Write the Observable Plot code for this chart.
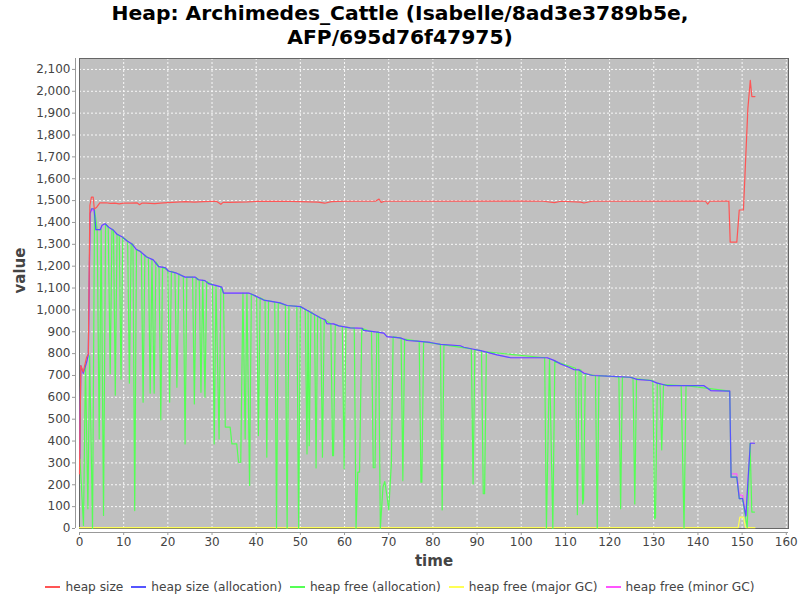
<!DOCTYPE html>
<html><head><meta charset="utf-8">
<script src="https://cdn.jsdelivr.net/npm/d3@7"></script>
<script src="https://cdn.jsdelivr.net/npm/@observablehq/plot@0.6"></script>
<style>
body{margin:0;background:#fff;font-family:"DejaVu Sans",sans-serif;}
#title{width:800px;height:49px;padding-top:1px;text-align:center;font-weight:bold;font-size:20.3px;line-height:24px;color:#000;}
#chart{height:525px;}
#legend{width:800px;height:24px;display:flex;justify-content:center;align-items:center;font-size:12.2px;color:#444;}
.item{display:flex;align-items:center;margin-right:8px;}
.item:last-child{margin-right:0;}
.sw{width:15px;height:1.5px;margin-right:5px;}
</style></head><body>
<div id="title">Heap: Archimedes_Cattle (Isabelle/8ad3e3789b5e,<br>AFP/695d76f47975)</div>
<div id="chart"></div>
<div id="legend"></div>
<script>
const xTicks = [0,10,20,30,40,50,60,70,80,90,100,110,120,130,140,150,160];
const yTicks = [0,100,200,300,400,500,600,700,800,900,1000,1100,1200,1300,1400,1500,1600,1700,1800,1900,2000,2100];

// heap size (red)
const heapSize = [[0,250],[0.3,745],[0.85,716],[1.6,783],[2.0,798],[2.35,1478],[2.7,1516],[3.1,1516],[3.35,1462],[3.9,1470],[4.6,1490],[6.0,1490],[7.0,1487],[8.0,1488],[9.0,1485],[10.0,1488],[11.5,1488],[13.0,1490],[13.6,1481],[14.1,1488],[15.0,1488],[17.0,1486],[19.0,1490],[21.0,1492],[24.0,1495],[26.0,1493],[28.0,1495],[31.0,1497],[32.0,1483],[32.5,1492],[34.0,1492],[38.0,1494],[40.0,1496],[46.0,1497],[50.0,1495],[54.0,1493],[55.5,1488],[57.0,1495],[60.0,1497],[67.0,1497],[67.8,1507],[68.3,1492],[69.0,1497],[80.0,1497],[100.0,1498],[105.0,1497],[107.5,1491],[109.0,1497],[113.5,1493],[114.2,1489],[116.0,1497],[125.0,1497],[140.0,1498],[141.7,1497],[142.2,1484],[142.7,1497],[147.0,1498],[147.3,1310],[148.8,1310],[149.35,1457],[150.3,1457],[151.3,1920],[151.85,2050],[152.2,1976],[152.9,1976]];

// heap size (allocation) (blue)
const sizeAlloc = [[0.05,320],[0.3,745],[0.85,710],[1.6,760],[2.0,795],[2.4,1440],[2.7,1462],[3.3,1462],[3.7,1367],[4.7,1367],[5.1,1387],[5.8,1394],[6.6,1378],[7.7,1364],[8.5,1346],[9.6,1335],[10.7,1316],[11.8,1303],[12.9,1276],[13.7,1268],[15.2,1242],[16.7,1229],[17.9,1198],[19.4,1193],[20.1,1178],[22.0,1168],[23.9,1150],[26.2,1150],[26.9,1138],[28.4,1134],[29.2,1120],[31.0,1111],[32.2,1104],[32.6,1077],[38.3,1077],[39.4,1068],[41.7,1045],[45.4,1032],[47.0,1020],[50.0,1015],[51.5,998],[53.4,977],[54.5,964],[55.6,955],[56.0,937],[57.5,936],[58.7,927],[61.3,918],[64.0,916],[64.3,906],[67.4,898],[68.9,894],[69.6,878],[72.6,872],[74.2,860],[76.4,857],[79.4,851],[81.7,842],[86.2,836],[87.0,829],[89.2,820],[90.8,814],[93.0,802],[94.5,794],[97.6,781],[105.9,781],[107.4,769],[108.9,753],[110.4,741],[111.9,727],[113.0,726],[114.2,710],[116.1,700],[119.5,697],[124.7,692],[126.2,682],[129.3,677],[130.8,665],[133.0,654],[141.3,654],[142.9,631],[147.2,628],[147.5,235],[148.8,235],[149.35,137],[150.1,137],[150.85,57],[151.85,390],[152.8,390]];

// heap free (allocation) (green)
const freeAlloc = [[0.05,340],[0.9,14],[1.35,750],[1.9,90],[2.3,790],[2.95,0],[3.4,1460],[4.0,1367],[4.46,410],[4.9,1370],[5.44,60],[5.9,1392],[6.5,1380],[6.95,707],[7.35,1370],[7.7,1364],[8.1,610],[8.5,1346],[9.0,1340],[9.4,683],[9.8,1333],[10.9,1315],[11.3,665],[11.7,1304],[12.1,1300],[12.5,82],[12.9,1276],[14.0,1264],[14.4,578],[14.8,1250],[15.6,1238],[16.0,619],[16.4,1232],[16.9,619],[17.3,1220],[18.0,1198],[18.4,497],[18.8,1196],[20.0,1180],[20.4,578],[20.8,1176],[21.6,1170],[22.05,646],[22.5,1165],[23.5,1152],[23.9,387],[24.3,1150],[25.6,1150],[26.0,570],[26.4,1148],[27.1,1137],[27.5,623],[27.9,1136],[28.4,600],[28.8,1130],[30.1,1116],[30.5,387],[30.9,1112],[31.6,410],[32.0,1105],[32.6,1077],[33.0,464],[34.1,464],[34.5,387],[35.6,387],[36.0,303],[36.5,303],[37.0,1077],[37.5,410],[37.9,1077],[38.5,197],[38.9,1072],[40.1,1060],[40.5,425],[40.9,1055],[42.0,1044],[42.4,326],[42.8,1042],[44.2,1036],[44.6,0],[45.0,1033],[46.6,1022],[47.0,0],[47.4,1020],[49.2,1016],[49.6,0],[50.0,1015],[51.1,1002],[51.5,341],[51.75,1000],[52.0,379],[52.4,990],[53.2,978],[53.55,277],[53.9,972],[54.6,962],[55.0,326],[55.4,957],[56.9,936],[57.3,333],[57.5,333],[57.9,932],[59.5,923],[59.9,273],[60.3,920],[62.2,917],[62.6,0],[63.0,258],[63.4,258],[63.9,916],[66.1,900],[66.5,278],[66.9,278],[67.3,898],[67.7,897],[68.1,0],[68.7,190],[69.1,215],[69.6,150],[70.0,85],[70.6,300],[71.0,878],[72.8,870],[73.2,219],[73.6,866],[76.9,856],[77.3,212],[77.5,212],[77.9,854],[81.7,842],[82.1,85],[82.5,840],[88.7,822],[89.1,204],[89.5,818],[91.0,813],[91.4,159],[91.7,159],[92.1,808],[105.3,781],[105.7,0],[106.4,778],[107.15,0],[107.6,765],[112.3,733],[112.7,63],[113.1,726],[113.5,726],[113.9,112],[114.1,130],[114.5,708],[116.8,700],[117.2,0],[117.6,699],[122.1,694],[122.5,90],[122.9,693],[125.3,690],[125.7,112],[126.1,685],[129.8,677],[130.2,44],[130.4,50],[130.8,665],[131.4,662],[131.8,359],[132.2,658],[136.2,654],[136.85,0],[137.3,654],[147.2,628],[147.5,235],[148.8,235],[149.35,137],[150.1,137],[150.85,40],[151.15,5],[151.8,390],[152.2,75],[152.8,75]];

// heap free (major GC) (yellow)
const majorGC = [[0,4],[149.1,4],[149.5,52],[150.3,52],[150.8,4],[152.9,4]];

// heap free (minor GC) (magenta), mostly hidden under the blue line
const minorGC = [[0.05,320],[0.3,745],[0.85,710],[1.6,760],[2.0,795],[2.4,1440],[2.7,1455],[3.3,1455],[3.7,1367],[4.7,1367],[5.1,1387],[5.8,1394],[6.6,1378],[7.7,1364],[8.5,1346],[9.6,1335],[10.7,1316],[11.8,1303],[12.9,1276],[13.7,1268],[15.2,1242],[16.7,1229],[17.9,1198],[19.4,1193],[20.1,1178],[22.0,1168],[23.9,1150],[26.2,1150],[26.9,1138],[28.4,1134],[29.2,1120],[31.0,1111],[32.2,1104],[32.6,1077],[38.3,1077],[39.4,1068],[41.7,1045],[45.4,1032],[47.0,1020],[50.0,1015],[51.5,998],[53.4,977],[54.5,964],[55.6,955],[56.0,937],[57.5,936],[58.7,927],[61.3,918],[64.0,916],[64.3,906],[67.4,898],[68.9,894],[69.6,878],[72.6,872],[74.2,860],[76.4,857],[79.4,851],[81.7,842],[86.2,836],[87.0,829],[89.2,820],[90.8,814],[93.0,802],[94.5,794],[97.6,781],[105.9,781],[107.4,769],[108.9,753],[110.4,741],[111.9,727],[113.0,728],[114.2,712],[116.1,702],[119.5,697],[124.7,692],[126.2,682],[129.3,677],[130.8,665],[133.0,654],[141.3,654],[142.9,631],[147.2,631],[147.5,250],[148.8,250],[149.35,153],[150.1,153],[150.85,57],[151.85,390],[152.8,390]];

const series = [
  {name:"heap size", color:"#FF5555", data:heapSize},
  {name:"heap size (allocation)", color:"#5555FF", data:sizeAlloc},
  {name:"heap free (allocation)", color:"#55FF55", data:freeAlloc},
  {name:"heap free (major GC)", color:"#FFFF55", data:majorGC},
  {name:"heap free (minor GC)", color:"#FF55FF", data:minorGC}
];

const drawOrder = series.slice().reverse();

const chart = Plot.plot({
  width: 800, height: 525,
  marginTop: 8, marginBottom: 47, marginLeft: 79, marginRight: 12,
  style: {fontFamily: "DejaVu Sans", fontSize: "12px", background: "white"},
  x: {domain: [0, 160.5]},
  y: {domain: [0, 2150]},
  marks: [
    Plot.frame({fill: "#C0C0C0"}),
    Plot.gridX({ticks: xTicks, stroke: "white", strokeOpacity: 1, strokeDasharray: "2,2", strokeWidth: 0.9}),
    Plot.gridY({ticks: yTicks, stroke: "white", strokeOpacity: 1, strokeDasharray: "2,2", strokeWidth: 0.9}),
    Plot.frame({stroke: "#666", strokeWidth: 1}),
    ...drawOrder.map(s => Plot.line(s.data, {x: d => d[0], y: d => d[1], stroke: s.color, strokeWidth: 1.2})),
    Plot.ruleY([0], {dy: 4, stroke: "#999"}),
    Plot.ruleX([0], {dx: -4, stroke: "#999"}),
    Plot.axisX({ticks: xTicks, tickSize: 3, tickPadding: 2, dy: 4, fontSize: 12, fill: "#444", stroke: "#999", label: null}),
    Plot.axisY({ticks: yTicks, tickFormat: d3.format(","), tickSize: 3, tickPadding: 2, dx: -4, fontSize: 12, fill: "#444", stroke: "#999", label: null}),
    Plot.text(["time"], {frameAnchor: "bottom", dy: 37, fontWeight: "bold", fontSize: 15, fill: "#444"}),
    Plot.text(["value"], {frameAnchor: "left", dx: -59, rotate: -90, fontWeight: "bold", fontSize: 15, fill: "#444"})
  ]
});
document.getElementById("chart").appendChild(chart);

const legend = document.getElementById("legend");
for (const s of series) {
  const it = document.createElement("div");
  it.className = "item";
  const sw = document.createElement("span");
  sw.className = "sw";
  sw.style.background = s.color;
  const tx = document.createElement("span");
  tx.textContent = s.name;
  it.appendChild(sw); it.appendChild(tx);
  legend.appendChild(it);
}
</script>
</body></html>
